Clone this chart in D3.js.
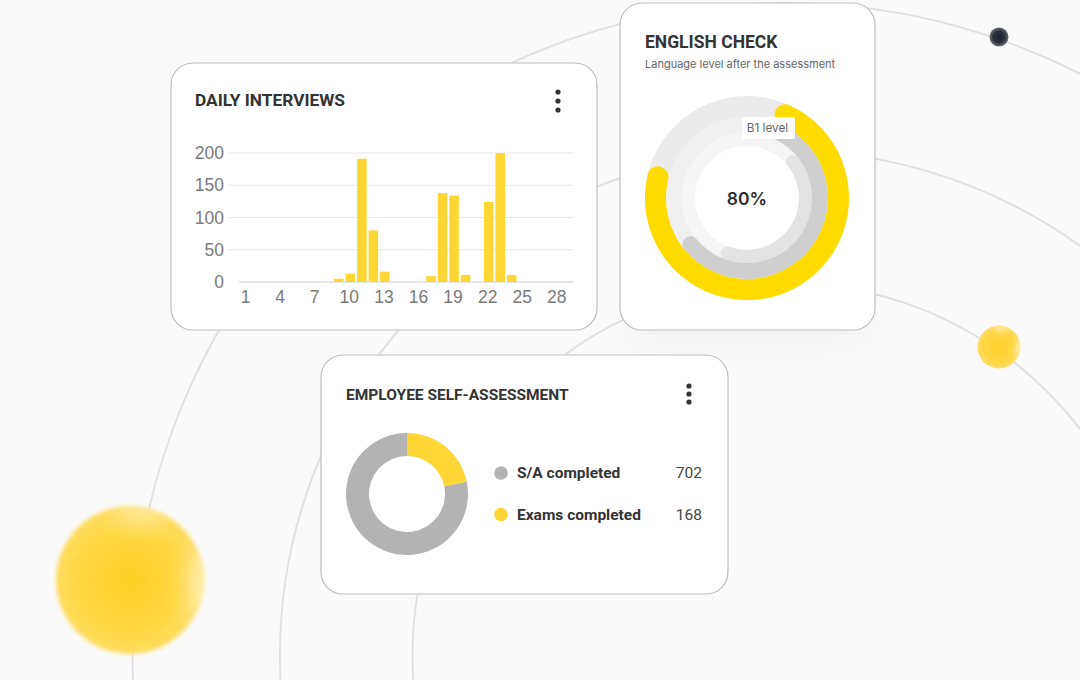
<!DOCTYPE html>
<html>
<head>
<meta charset="utf-8">
<script src="https://cdn.jsdelivr.net/npm/d3@7"></script>
<style>
  html, body { margin: 0; padding: 0; background: #fafafa; }
  svg { display: block; font-family: Roboto, sans-serif; }
</style>
</head>
<body>
<svg id="plot" width="1080" height="680"></svg>
<script>
// daily interviews
var days = d3.range(1, 29);
var interviews = [0, 0, 0, 0, 0, 0, 0, 0, 5, 13, 191, 80, 16, 0, 0, 0, 9, 138, 134, 11, 0, 124, 200, 11, 0, 0, 0, 0];
var dayTicks = [1, 4, 7, 10, 13, 16, 19, 22, 25, 28];
var countTicks = [0, 50, 100, 150, 200];

// english check, ring extents in degrees
var ringTracks = ["#ebebeb", "#f0f0f0", "#f5f5f5"];
var ringColors = ["#ffdb00", "#cfcfcf", "#e3e3e3"];
var ringStarts = [18, 20, 45];
var ringEnds = [290, 237, 206];

// self-assessment
var assessmentLabels = ["Exams completed", "S/A completed"];
var assessmentCounts = [168, 702];
var assessmentShares = [21.8, 78.2]; // as drawn in the picture, not the same as the counts
var assessmentColors = ["#ffd633", "#b3b3b3"];

var orbitRadii = [652, 504.5, 372];

var svg = d3.select("#plot");
var defs = svg.append("defs");

function blur(id, dev) {
  defs.append("filter").attr("id", id)
    .attr("x", "-150%").attr("y", "-150%").attr("width", "400%").attr("height", "400%")
    .append("feGaussianBlur").attr("stdDeviation", dev);
}
blur("blur1", 0.6);
blur("blur2", 2);
blur("blur3", 3);
blur("blur12", 12);
blur("shadow", 14);

function gradient(id, stops) {
  var g = defs.append("radialGradient").attr("id", id);
  stops.forEach(function(s) {
    g.append("stop").attr("offset", s[0]).attr("stop-color", s[1]);
  });
}
gradient("sunBig", [["0%", "#ffcf24"], ["65%", "#ffd640"], ["100%", "#ffdc5e"]]);
gradient("sunSmall", [["0%", "#ffd02c"], ["75%", "#ffd645"], ["100%", "#ffde6a"]]);
gradient("dark", [["0%", "#1d2430"], ["60%", "#2b313c"], ["100%", "#6a6e75"]]);

// orbits behind the cards
svg.append("g").selectAll("circle")
  .data(orbitRadii)
  .enter()
  .append("circle")
  .attr("cx", 784.5)
  .attr("cy", 655)
  .attr("r", function(d){ return d })
  .attr("fill", "none")
  .attr("stroke", "#e0e0e0")
  .attr("stroke-width", 2);

// planets
var bigClip = defs.append("clipPath").attr("id", "bigClip");
bigClip.append("circle").attr("cx", 130).attr("cy", 580).attr("r", 75);
var big = svg.append("g").attr("filter", "url(#blur2)");
big.append("circle").attr("cx", 130).attr("cy", 580).attr("r", 74)
  .attr("fill", "url(#sunBig)");
var bigGlow = big.append("g").attr("clip-path", "url(#bigClip)");
bigGlow.append("ellipse").attr("cx", 140).attr("cy", 512).attr("rx", 26).attr("ry", 10)
  .attr("fill", "#fff0b8").attr("filter", "url(#blur12)");
bigGlow.append("ellipse").attr("cx", 204).attr("cy", 585).attr("rx", 14).attr("ry", 40)
  .attr("fill", "#fff0b8").attr("filter", "url(#blur12)");

var smallClip = defs.append("clipPath").attr("id", "smallClip");
smallClip.append("circle").attr("cx", 999).attr("cy", 347).attr("r", 21.5);
var small = svg.append("g").attr("filter", "url(#blur1)");
small.append("circle").attr("cx", 999).attr("cy", 347).attr("r", 21.5)
  .attr("fill", "url(#sunSmall)");
var smallGlow = small.append("g").attr("clip-path", "url(#smallClip)");
smallGlow.append("ellipse").attr("cx", 1001).attr("cy", 328).attr("rx", 7).attr("ry", 3)
  .attr("fill", "#fff0b8").attr("filter", "url(#blur3)");
smallGlow.append("ellipse").attr("cx", 1020).attr("cy", 349).attr("rx", 4).attr("ry", 10)
  .attr("fill", "#fff0b8").attr("filter", "url(#blur3)");

svg.append("circle").attr("cx", 999).attr("cy", 37).attr("r", 9.5)
  .attr("fill", "url(#dark)");

// cards
function card(x, y, w, h) {
  svg.append("rect")
    .attr("x", x).attr("y", y).attr("width", w).attr("height", h)
    .attr("rx", 22)
    .attr("fill", "#fff")
    .attr("stroke", "#bdbdbd")
    .attr("stroke-width", 1.2);
}
function menuDots(x, ys) {
  svg.append("g").selectAll("circle")
    .data(ys)
    .enter()
    .append("circle")
    .attr("cx", x)
    .attr("cy", function(d){ return d })
    .attr("r", 2.6)
    .attr("fill", "#333");
}

// soft shadow of the english card
svg.append("rect")
  .attr("x", 630).attr("y", 30).attr("width", 235).attr("height", 312).attr("rx", 22)
  .attr("fill", "#000").attr("opacity", 0.035).attr("filter", "url(#shadow)");

card(171, 63, 426, 267);
card(620, 3, 255, 327);
card(321, 355, 407, 239);

// DAILY INTERVIEWS
svg.append("text").attr("x", 195).attr("y", 106)
  .attr("font-size", 17.3).attr("font-weight", 700).attr("fill", "#333")
  .text("DAILY INTERVIEWS");
menuDots(558, [92, 101, 110]);

var x = d3.scaleBand().domain(days).range([239.8, 564.6]).padding(0.17);
var y = d3.scaleLinear().domain([0, 200]).range([282, 153]);

var yAxis = svg.append("g")
  .attr("transform", "translate(228,0)")
  .call(d3.axisLeft(y).tickValues(countTicks).tickSize(0).tickPadding(4));
yAxis.select(".domain").remove();
yAxis.selectAll("text")
  .style("font-family", "'Liberation Sans', sans-serif")
  .style("font-size", "17.5px")
  .attr("fill", "#7a7a7a");

svg.append("g").selectAll("line")
  .data(countTicks.slice(1))
  .enter()
  .append("line")
  .attr("x1", 228)
  .attr("x2", 573)
  .attr("y1", function(d){ return y(d) })
  .attr("y2", function(d){ return y(d) })
  .attr("stroke", "#e6e6e6")
  .attr("stroke-width", 1.2);

svg.append("g").selectAll("rect")
  .data(interviews)
  .enter()
  .append("rect")
  .attr("x", function(d, i){ return x(days[i]) })
  .attr("y", function(d){ return y(d) })
  .attr("width", x.bandwidth())
  .attr("height", function(d){ return y(0) - y(d) })
  .attr("fill", "#ffd633");

svg.append("line")
  .attr("x1", 239).attr("x2", 573).attr("y1", y(0)).attr("y2", y(0))
  .attr("stroke", "#cfcfcf").attr("stroke-width", 1.2);

var xAxis = svg.append("g")
  .attr("transform", "translate(-1,282)")
  .call(d3.axisBottom(x).tickValues(dayTicks).tickSize(0).tickPadding(8.5));
xAxis.select(".domain").remove();
xAxis.selectAll("text")
  .style("font-family", "'Liberation Sans', sans-serif")
  .style("font-size", "17.5px")
  .attr("fill", "#7a7a7a");

// ENGLISH CHECK
svg.append("text").attr("x", 645).attr("y", 47.5)
  .attr("font-size", 17.5).attr("font-weight", 700).attr("fill", "#333")
  .text("ENGLISH CHECK");
svg.append("text").attr("x", 645).attr("y", 68)
  .style("font-family", "Inter, sans-serif")
  .attr("font-size", 11).attr("fill", "#666")
  .text("Language level after the assessment");

var ringBands = [[81, 102], [65, 81], [52, 65]];
var ring = svg.append("g").attr("transform", "translate(747,198)");
var rad = d3.scaleLinear().domain([0, 360]).range([0, 2 * Math.PI]);

ring.selectAll("path.track")
  .data(ringTracks)
  .enter()
  .append("path")
  .attr("class", "track")
  .attr("fill", function(d){ return d })
  .attr("d", function(d, i) {
    return d3.arc().innerRadius(ringBands[i][0]).outerRadius(ringBands[i][1])
      .startAngle(0).endAngle(2 * Math.PI)();
  });

// drawn inner ring first so the rounded ends overlap like the original
ring.selectAll("path.value")
  .data(d3.range(ringColors.length).reverse())
  .enter()
  .append("path")
  .attr("class", "value")
  .attr("fill", function(i){ return ringColors[i] })
  .attr("d", function(i) {
    var b = ringBands[i];
    return d3.arc().innerRadius(b[0]).outerRadius(b[1])
      .cornerRadius((b[1] - b[0]) / 2)
      .startAngle(rad(ringStarts[i])).endAngle(rad(ringEnds[i]))();
  });

ring.append("text").attr("text-anchor", "middle").attr("y", 7)
  .style("font-family", "Inter, sans-serif")
  .attr("font-size", 17.5).attr("font-weight", 600).attr("fill", "#2b2b2b")
  .text("80%");

svg.append("rect")
  .attr("x", 742).attr("y", 117).attr("width", 53).attr("height", 22).attr("rx", 2)
  .attr("fill", "#fff");
svg.append("text").attr("x", 767.5).attr("y", 132).attr("text-anchor", "middle")
  .style("font-family", "Inter, sans-serif")
  .attr("font-size", 11.8).attr("fill", "#666")
  .text("B1 level");

// EMPLOYEE SELF-ASSESSMENT
svg.append("text").attr("x", 346).attr("y", 400)
  .attr("font-size", 15.5).attr("font-weight", 700).attr("fill", "#333")
  .text("EMPLOYEE SELF-ASSESSMENT");
menuDots(689, [386, 394, 402]);

var pie = d3.pie().sort(null);
var donutArc = d3.arc().innerRadius(38).outerRadius(61);
svg.append("g").attr("transform", "translate(407,494)")
  .selectAll("path")
  .data(pie(assessmentShares))
  .enter()
  .append("path")
  .attr("d", donutArc)
  .attr("fill", function(d, i){ return assessmentColors[i] });

// legend lists S/A first
var legendOrder = [1, 0];
var legend = svg.append("g").selectAll("g")
  .data(legendOrder)
  .enter()
  .append("g")
  .attr("transform", function(d, i){ return "translate(0," + (472 + i * 41.5) + ")" });
legend.append("circle")
  .attr("cx", 501).attr("cy", 1).attr("r", 6.8)
  .attr("fill", function(d){ return assessmentColors[d] });
legend.append("text")
  .attr("x", 517).attr("y", 6)
  .attr("font-size", 15.5).attr("font-weight", 700).attr("fill", "#333")
  .text(function(d){ return assessmentLabels[d] });
legend.append("text")
  .attr("x", 702).attr("y", 6).attr("text-anchor", "end")
  .attr("font-size", 15.5).attr("fill", "#444")
  .text(function(d){ return assessmentCounts[d] });
</script>
</body>
</html>
